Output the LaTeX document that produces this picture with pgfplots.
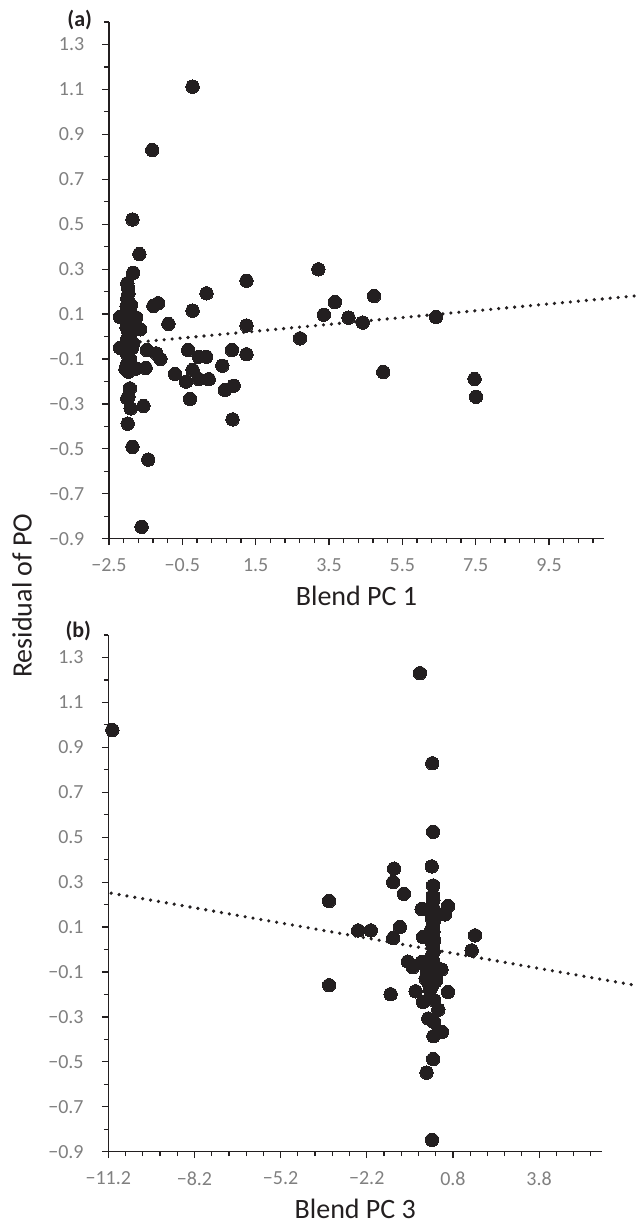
\documentclass[border=0pt]{standalone}
\usepackage{pgfplots}
\pgfplotsset{compat=1.18}
\usepackage{fontspec}
\setmainfont{Carlito}
\definecolor{dot}{HTML}{231F20}
\definecolor{tickgray}{HTML}{808080}

\pgfplotsset{resid/.style={
  scale only axis, clip=false,
  axis x line*=bottom, axis y line*=left,
  axis line style={line width=1.5pt, draw=dot, -},
  tick align=outside,
  major tick length=6.5pt, minor tick length=4.5pt,
  tick style={line width=1.2pt, draw=dot},
  height=516.7pt, ymin=-0.9, ymax=1.4,
  ytick={-0.9,-0.7,-0.5,-0.3,-0.1,0.1,0.3,0.5,0.7,0.9,1.1,1.3},
  yticklabels={−0.9,−0.7,−0.5,−0.3,−0.1,0.1,0.3,0.5,0.7,0.9,1.1,1.3},
  minor ytick={-0.8,-0.6,-0.4,-0.2,0,0.2,0.4,0.6,0.8,1.0,1.2,1.4},
  ticklabel style={font=\fontsize{20}{20}\selectfont, text=tickgray, inner sep=0pt},
  yticklabel style={anchor=east, xshift=-18pt},
  xticklabel style={anchor=north, yshift=-13pt},
  xlabel style={font=\fontsize{28}{28}\selectfont, text=dot, anchor=base,
    at={(axis description cs:0.5,0)}, yshift=-67pt},
  trend/.style={dot, line width=3.6pt, line cap=round, dash pattern=on 0pt off 8pt},
  pts/.style={only marks, mark=*, mark size=6.7pt,
    mark options={fill=dot, draw=dot, line width=0pt}},
}}

\begin{document}
\begin{tikzpicture}[x=1pt, y=1pt]
\path[use as bounding box, clip] (-109pt,-686.3pt) rectangle (528pt,538.7pt);

% (a) Blend PC 1
\begin{axis}[resid, at={(0pt,0pt)}, anchor=south west,
  width=495pt, xmin=-2.5, xmax=11,
  xtick={-2.5,-0.5,1.5,3.5,5.5,7.5,9.5},
  xticklabels={−2.5,−0.5,1.5,3.5,5.5,7.5,9.5},
  minor xtick={-2.1,-1.7,-1.3,-0.9,-0.1,0.3,0.7,1.1,1.9,2.3,2.7,3.1,3.9,4.3,4.7,5.1,5.9,6.3,6.7,7.1,7.9,8.3,8.7,9.1,9.9,10.3,10.7},
  xlabel={Blend PC 1}]
\addplot[trend] coordinates {(-2.3,-0.034) (12.0,0.183)};
\addplot[pts] table {
x y
-0.22 1.112
-1.32 0.830
-1.86 0.521
-1.67 0.367
-1.84 0.284
1.25 0.248
0.16 0.192
-0.22 0.115
-1.29 0.136
-1.16 0.148
3.21 0.299
3.66 0.153
3.36 0.097
4.03 0.084
4.42 0.062
4.73 0.180
2.71 -0.008
4.98 -0.158
6.42 0.087
7.47 -0.189
7.51 -0.268
-0.88 0.056
1.25 0.049
1.25 -0.079
0.85 -0.060
0.59 -0.130
0.66 -0.238
0.90 -0.219
0.87 -0.369
-0.34 -0.060
-0.05 -0.090
0.15 -0.090
-0.70 -0.167
-0.40 -0.201
-0.22 -0.149
-0.05 -0.190
0.22 -0.190
-0.29 -0.278
-1.47 -0.060
-1.21 -0.075
-1.10 -0.100
-1.50 -0.140
-1.61 -0.847
-1.43 -0.548
-1.86 -0.491
-1.99 -0.388
-1.56 -0.309
-1.91 -0.320
-1.97 -0.268
-1.93 -0.231
-2.00 -0.275
-2.20 -0.050
-2.20 0.087
-1.65 0.032
-1.76 0.085
-1.84 -0.030
-1.75 -0.142
-2.00 0.237
-1.98 0.215
-1.97 0.192
-2.00 0.170
-1.98 0.155
-2.02 0.135
-1.95 0.120
-1.98 0.100
-2.00 0.075
-1.95 0.060
-2.02 0.040
-1.97 0.020
-1.92 0.000
-2.00 -0.010
-1.95 -0.060
-2.00 -0.080
-1.93 -0.100
-2.02 -0.127
-1.97 -0.157
-2.05 -0.145
-1.90 -0.135
-1.87 -0.050
-1.88 0.050
-1.90 0.140
};
\end{axis}

% (b) Blend PC 3
\begin{axis}[resid, at={(-0.7pt,-613pt)}, anchor=south west,
  width=494pt, xmin=-11.2, xmax=6.0,
  xtick={-11.2,-8.2,-5.2,-2.2,0.8,3.8},
  xticklabels={−11.2,−8.2,−5.2,−2.2,0.8,3.8},
  minor xtick={-10.6,-10,-9.4,-8.8,-7.6,-7,-6.4,-5.8,-4.6,-4,-3.4,-2.8,-1.6,-1,-0.4,0.2,1.4,2,2.6,3.2,4.4,5,5.6},
  xlabel={Blend PC 3}]
\addplot[trend] coordinates {(-11.1,0.251) (7.4,-0.165)};
\addplot[pts] table {
x y
-11.06 0.977
-0.35 1.230
0.08 0.829
0.11 0.524
0.06 0.370
0.11 0.285
-1.25 0.360
-1.28 0.300
-0.91 0.248
-3.51 0.216
0.63 0.193
0.52 0.156
-0.29 0.180
-2.50 0.085
-2.06 0.085
-1.05 0.100
-1.28 0.051
-0.24 0.056
1.57 0.063
1.45 -0.004
-3.51 -0.159
-1.37 -0.199
-0.77 -0.054
-0.60 -0.079
-0.29 -0.056
0.40 -0.089
-0.50 -0.186
0.63 -0.189
-0.24 -0.233
0.15 -0.226
0.29 -0.268
-0.06 -0.307
0.14 -0.322
0.42 -0.367
0.12 -0.386
0.11 -0.488
-0.12 -0.548
0.07 -0.847
0.10 0.240
0.12 0.220
0.08 0.200
0.13 0.180
0.10 0.160
0.06 0.140
0.14 0.130
0.10 0.110
0.05 0.090
0.12 0.080
0.09 0.060
0.15 0.040
0.07 0.030
0.11 0.010
0.13 -0.010
0.06 -0.030
0.10 -0.050
0.16 -0.070
0.05 -0.080
0.11 -0.100
0.02 -0.120
0.14 -0.130
-0.05 -0.150
0.08 -0.160
0.20 -0.140
-0.10 -0.100
-0.15 -0.130
0.00 -0.180
0.22 -0.120
};
\end{axis}

\node[rotate=90, anchor=base, font=\fontsize{28}{28}\selectfont, text=dot]
  at (-77.3pt,-57pt) {Residual of PO};
\node[font=\bfseries\fontsize{22}{22}\selectfont, text=dot] at (-29.3pt,518.7pt) {(a)};
\node[font=\bfseries\fontsize{22}{22}\selectfont, text=dot] at (-30.7pt,-92.3pt) {(b)};
\end{tikzpicture}
\end{document}
